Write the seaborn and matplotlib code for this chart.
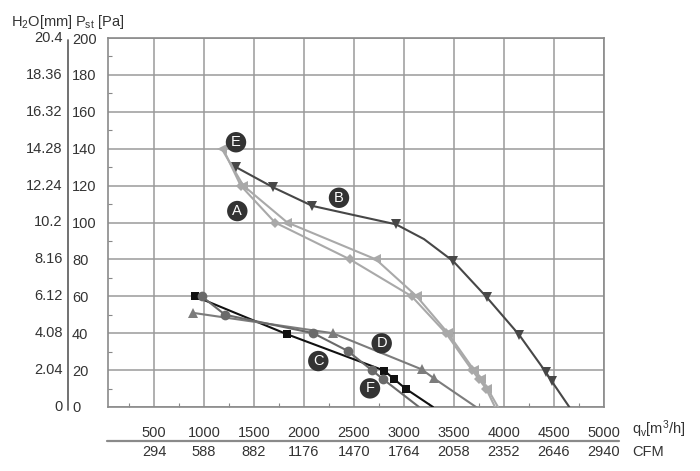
import numpy as np
import pandas as pd
import matplotlib
matplotlib.use("Agg")
import matplotlib.pyplot as plt
import seaborn as sns

# ---------------- data ----------------
flow_ticks = [500, 1000, 1500, 2000, 2500, 3000, 3500, 4000, 4500, 5000]
cfm_labels = ["294", "588", "882", "1176", "1470", "1764", "2058", "2352", "2646", "2940"]
pa_ticks = [0, 20, 40, 60, 80, 100, 120, 140, 160, 180, 200]
mm_labels = ["0", "2.04", "4.08", "6.12", "8.16", "10.2", "12.24", "14.28", "16.32", "18.36", "20.4"]

# curve paths (flow m3/h, static pressure Pa)
A_x = [1190, 1367, 1710, 2460, 3077, 3420, 3680, 3750, 3820, 3910]
A_y = [140, 120, 100, 80, 60, 40, 20, 15, 10, 0]
A_mx = [1367, 1710, 2460, 3077, 3420, 3680, 3750, 3820]
A_my = [120, 100, 80, 60, 40, 20, 15, 10]

E_x = [1177, 1393, 1833, 2720, 3127, 3440, 3700, 3770, 3835, 3940]
E_y = [140, 120, 100, 80, 60, 40, 20, 15, 10, 0]
E_mx = [1177, 1393, 1833, 2720, 3127, 3440, 3700, 3770, 3835]
E_my = [140, 120, 100, 80, 60, 40, 20, 15, 10]

B_x = [1320, 1693, 2083, 2500, 2920, 3200, 3493, 3827, 4153, 4417, 4477, 4653]
B_y = [130, 119, 109, 104, 99, 91, 79, 59.5, 39, 19, 14, 0]
B_mx = [1320, 1693, 2083, 2920, 3493, 3827, 4153, 4417, 4477]
B_my = [130, 119, 109, 99, 79, 59.5, 39, 19, 14]

C_x = [910, 1827, 2803, 2903, 3017, 3290]
C_y = [60, 39.5, 19.7, 15, 9.9, 0]
C_mx = [910, 1827, 2803, 2903, 3017]
C_my = [60, 39.5, 19.7, 15, 9.9]

D_x = [893, 2287, 3177, 3300, 3720]
D_y = [51, 40, 20.4, 15.5, 0]
D_mx = [893, 2287, 3177, 3300]
D_my = [51, 40, 20.4, 15.5]

F_x = [977, 1210, 2093, 2437, 2677, 2793, 3150]
F_y = [60, 50, 40, 30.4, 20, 15, 0]
F_mx = [977, 1210, 2093, 2437, 2677, 2793]
F_my = [60, 50, 40, 30.4, 20, 15]

labels = ["E", "B", "A", "D", "C", "F"]
label_x = [1320, 2350, 1333, 2777, 2143, 2660]
label_y = [143.5, 113.4, 106.2, 34.5, 24.9, 10.1]

# ---------------- style ----------------
sns.set_theme(style="white")
plt.rcParams["font.family"] = ["Liberation Sans", "DejaVu Sans"]
plt.rcParams["mathtext.fontset"] = "custom"
plt.rcParams["mathtext.rm"] = "Liberation Sans"
plt.rcParams["mathtext.it"] = "Liberation Sans:italic"
plt.rcParams["mathtext.default"] = "rm"

TXT = "#333333"
GRID = "#9a9a9a"
FS = 10.5

fig = plt.figure(figsize=(7, 4.71), dpi=100)
ax = fig.add_axes([108 / 700, 1 - 407 / 471, 496 / 700, 369 / 471])

curves = [
    ("A", A_x, A_y, A_mx, A_my, "#a9a9a9", "D", 5.5),
    ("E", E_x, E_y, E_mx, E_my, "#a9a9a9", "<", 7),
    ("B", B_x, B_y, B_mx, B_my, "#474747", "v", 7),
    ("C", C_x, C_y, C_mx, C_my, "#111111", "s", 6),
    ("D", D_x, D_y, D_mx, D_my, "#7c7c7c", "^", 7),
    ("F", F_x, F_y, F_mx, F_my, "#6a6a6a", "o", 7),
]
for name, lx, ly, mx, my, col, mk, ms in curves:
    sns.lineplot(x=lx, y=ly, ax=ax, color=col, lw=1.5, sort=False,
                 estimator=None, zorder=3)
    ax.plot(mx, my, linestyle="none", marker=mk, color=col, markersize=ms,
            markeredgewidth=0, zorder=4)

for s, x, y in zip(labels, label_x, label_y):
    ax.text(x, y, s, ha="center", va="center", color="white", fontsize=10.5,
            zorder=6,
            bbox=dict(boxstyle="circle,pad=0.22", fc="#333333", ec="none"))

ax.set_xlim(40, 5000)
ax.set_ylim(0, 200)

ax.set_xticks(flow_ticks)
ax.set_xticklabels([str(v) for v in flow_ticks])
ax.set_xticks(np.arange(250, 5000, 500), minor=True)
ax.set_yticks(pa_ticks)
ax.set_yticklabels([str(v) for v in pa_ticks])
ax.set_yticks(np.arange(10, 200, 20), minor=True)
for lbl in ax.get_yticklabels():
    lbl.set_horizontalalignment("left")

ax.tick_params(axis="y", which="major", length=0, pad=25.9, labelsize=FS, labelcolor=TXT)
ax.tick_params(axis="x", which="major", length=0, pad=13.5, labelsize=FS, labelcolor=TXT)
ax.tick_params(which="minor", direction="in", length=3, width=0.8, color="#888888",
               left=True, bottom=True)
ax.grid(True, which="major", color=GRID, lw=1.1)
ax.set_xlabel("")
ax.set_ylabel("")
for sp in ax.spines.values():
    sp.set_color("#8a8a8a")
    sp.set_linewidth(1.2)

# mm column
ytr = ax.get_yaxis_transform()
for v, s in zip(pa_ticks, mm_labels):
    ax.text((62.7 - 108) / 496, v, s, transform=ytr, ha="right", va="center",
            fontsize=FS, color=TXT, clip_on=False)
# separator line between the two scales
ax.plot([(68 - 108) / 496] * 2, [(407 - 410) / 369, (407 - 40) / 369],
        transform=ax.transAxes, color="#666666", lw=1.3, clip_on=False)

# CFM row
xtr = ax.get_xaxis_transform()
for v, s in zip(flow_ticks, cfm_labels):
    ax.text(v, (407 - 451.7) / 369, s, transform=xtr, ha="center", va="center",
            fontsize=FS, color=TXT, clip_on=False)
ax.plot([(107 - 108) / 496, (619 - 108) / 496], [(407 - 441) / 369] * 2,
        transform=ax.transAxes, color="#8a8a8a", lw=1.6, clip_on=False)

fig.text(632 / 700, 1 - 429 / 471, r"q$_\mathrm{v}$[m$^3$/h]", ha="left", va="center",
         fontsize=FS, color=TXT)
fig.text(632 / 700, 1 - 451.7 / 471, "CFM", ha="left", va="center", fontsize=FS, color=TXT)
fig.text(11 / 700, 1 - 21.7 / 471, r"H$_2$O[mm]", ha="left", va="center", fontsize=FS, color=TXT)
fig.text(75 / 700, 1 - 21.7 / 471, r"P$_{\mathrm{st}}$ [Pa]", ha="left", va="center",
         fontsize=FS, color=TXT)

fig.savefig("out.png", dpi=100)
